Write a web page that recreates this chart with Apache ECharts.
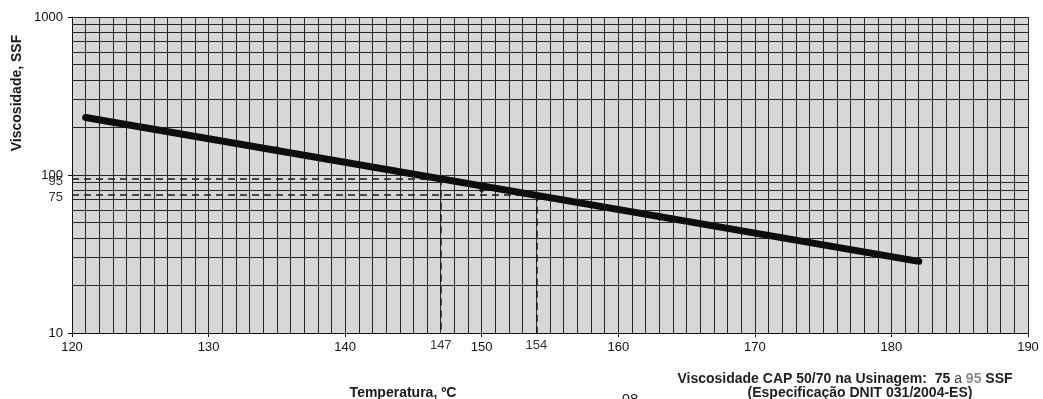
<!DOCTYPE html>
<html>
<head>
<meta charset="utf-8">
<script src="https://cdn.jsdelivr.net/npm/echarts@6/dist/echarts.min.js"></script>
<style>
html,body{margin:0;padding:0;background:#fdfdfd;}
#chart{width:1043px;height:399px;}
</style>
</head>
<body>
<div id="chart"></div>
<script>
// ---- data ----
const xTickValues = [120, 130, 140, 150, 160, 170, 180, 190];
const yTickValues = [10, 100, 1000];
const yMinorGrid = [20, 30, 40, 50, 60, 70, 80, 90, 200, 300, 400, 500, 600, 700, 800, 900];
const trendTemps = [121, 182];
const trendVisc = [231, 28.4];
const measTemps = [135, 150, 177];
const measVisc = [147, 80, 34];
const refTemps = [147, 154];
const refVisc = [95, 75];

const FONT = '"Liberation Sans", Arial, sans-serif';
const GRIDC = '#262626';

const chart = echarts.init(document.getElementById('chart'), null, {renderer: 'canvas'});

const trendData = trendTemps.map((t, i) => [t, trendVisc[i]]);
const measData = measTemps.map((t, i) => [t, measVisc[i]]);

const refLines = [];
refTemps.forEach((t, i) => {
  refLines.push([{coord: [xTickValues[0], refVisc[i]]}, {coord: [t, refVisc[i]]}]);
  refLines.push([{coord: [t, refVisc[i]]}, {coord: [t, yTickValues[0]]}]);
});

const option = {
  backgroundColor: '#fdfdfd',
  animation: false,
  grid: {
    left: 72, right: 15, top: 17, bottom: 66,
    containLabel: false, outerBoundsMode: 'none',
    show: true, backgroundColor: '#d7d7d7', borderWidth: 0
  },
  xAxis: {
    type: 'value',
    min: xTickValues[0], max: xTickValues[xTickValues.length - 1], interval: 10,
    axisLine: {show: true, lineStyle: {color: '#111', width: 1}},
    axisTick: {show: true, length: 4, lineStyle: {color: '#111'}},
    axisLabel: {color: '#111', fontFamily: FONT, fontSize: 13, margin: 8},
    splitLine: {show: true, lineStyle: {color: GRIDC, width: 1}},
    minorTick: {show: false, splitNumber: 10},
    minorSplitLine: {show: true, lineStyle: {color: GRIDC, width: 1}}
  },
  yAxis: {
    type: 'log', logBase: 10,
    min: yTickValues[0], max: yTickValues[yTickValues.length - 1],
    axisLine: {show: true, lineStyle: {color: '#111', width: 1}},
    axisTick: {show: true, length: 4, lineStyle: {color: '#111'}},
    axisLabel: {color: '#111', fontFamily: FONT, fontSize: 13, margin: 9,
      formatter: v => String(Math.round(v))},
    splitLine: {show: true, lineStyle: {color: GRIDC, width: 1}},
    minorSplitLine: {show: false}
  },
  series: [
    {
      name: 'grid', type: 'line', data: [], silent: true, z: 1,
      markLine: {
        silent: true, symbol: 'none', animation: false,
        label: {show: false},
        lineStyle: {color: GRIDC, width: 1, type: 'solid'},
        data: yMinorGrid.map(v => ({yAxis: v}))
      }
    },
    {
      name: 'ref', type: 'line', data: [], silent: true, z: 2,
      markLine: {
        silent: true, symbol: 'none', animation: false,
        label: {show: false},
        lineStyle: {color: '#1a1a1a', width: 1.5, type: [7, 5]},
        data: refLines
      }
    },
    {
      name: 'Viscosidade', type: 'line', data: trendData, z: 5,
      showSymbol: false, symbol: 'none',
      lineStyle: {color: '#0d0d0d', width: 7, cap: 'round'}
    },
    {
      name: 'Pontos', type: 'scatter', data: measData, z: 6,
      symbol: 'diamond', symbolSize: 6,
      itemStyle: {color: '#0d0d0d'}
    },
    {
      name: 'refYLabels', type: 'scatter', z: 7, silent: true,
      symbolSize: 0, clip: false,
      data: refVisc.map((v) => [xTickValues[0], v]),
      label: {
        show: true, position: 'left', distance: 9, offset: [0, 3],
        color: '#000', fontFamily: FONT, fontSize: 13,
        formatter: p => String(p.value[1])
      }
    },
    {
      name: 'refXLabels', type: 'scatter', z: 7, silent: true,
      symbolSize: 0, clip: false,
      data: refTemps.map((t) => [t, yTickValues[0]]),
      label: {
        show: true, position: 'bottom', distance: 6,
        color: '#000', fontFamily: FONT, fontSize: 13,
        formatter: p => String(p.value[0])
      }
    }
  ],
  graphic: [
    {
      type: 'text', x: 17, y: 93, rotation: Math.PI / 2,
      style: {text: 'Viscosidade, SSF', font: 'bold 14px ' + FONT, fill: '#1a1a1a',
        textAlign: 'center', textVerticalAlign: 'middle'}
    },
    {
      type: 'text', x: 403, y: 393,
      style: {text: 'Temperatura, ºC', font: 'bold 14px ' + FONT, fill: '#1a1a1a',
        textAlign: 'center', textVerticalAlign: 'middle'}
    },
    {
      type: 'text', x: 630, y: 400,
      style: {text: '08', font: '15px ' + FONT, fill: '#222',
        textAlign: 'center', textVerticalAlign: 'middle'}
    },
    {
      type: 'text', x: 845, y: 379,
      style: {
        text: '{b|Viscosidade CAP 50/70 na Usinagem:  75 }{n|a }{g|95}{b| SSF}',
        textAlign: 'center', textVerticalAlign: 'middle',
        rich: {
          b: {font: 'bold 14px ' + FONT, fill: '#1f1f1f'},
          n: {font: '14px ' + FONT, fill: '#444'},
          g: {font: 'bold 14px ' + FONT, fill: '#8a8a8a'}
        }
      }
    },
    {
      type: 'text', x: 860, y: 393,
      style: {text: '(Especificação DNIT 031/2004-ES)', font: 'bold 14px ' + FONT, fill: '#1f1f1f',
        textAlign: 'center', textVerticalAlign: 'middle'}
    }
  ]
};
chart.setOption(option);
</script>
</body>
</html>
